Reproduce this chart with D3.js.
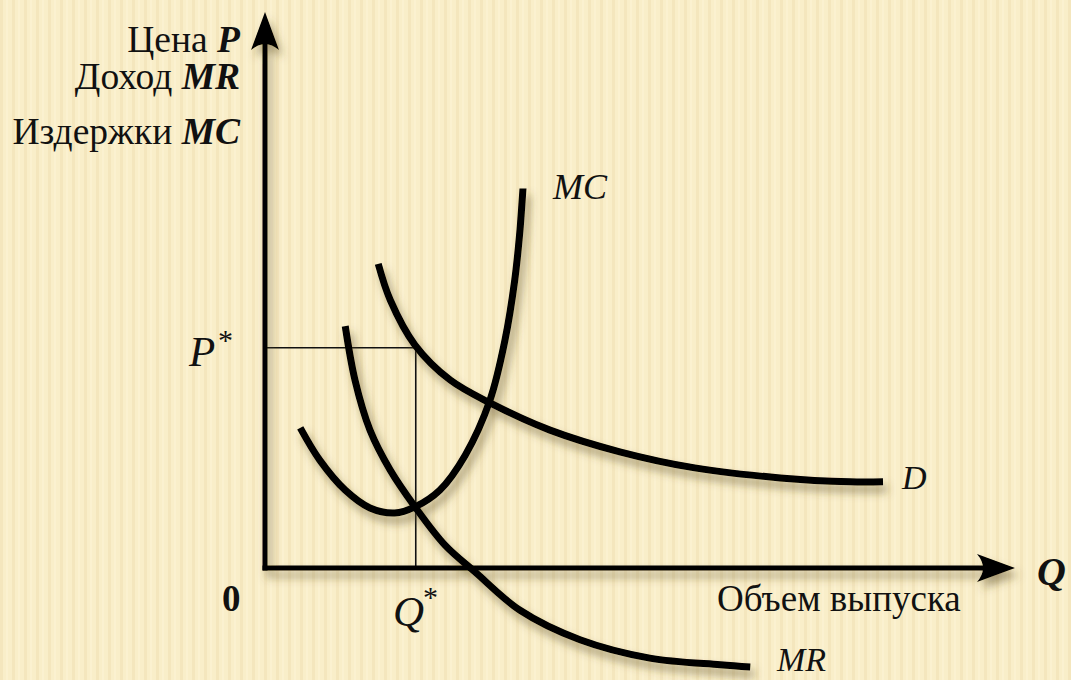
<!DOCTYPE html>
<html>
<head>
<meta charset="utf-8">
<script src="https://cdn.jsdelivr.net/npm/d3@7"></script>
<style>
  html, body { margin: 0; padding: 0; background: #f8ecc5; }
  svg { display: block; }
</style>
</head>
<body>
<div id="chart"></div>
<script>
// curves, in chart units (Q across, P up)
var mcCurve = [[4.7,25.2],[7.3,19.4],[10.7,14.0],[14.0,10.8],[17.3,9.9],[20.0,11.0],[23.3,14.0],[26.7,20.3],[30.0,30.2],[32.0,41.0],[33.3,51.8],[34.0,60.8],[34.4,68.3]];
var mrCurve = [[10.7,43.5],[12.0,33.8],[14.0,24.8],[16.7,17.6],[20.0,11.0],[24.0,4.1],[28.0,-0.7],[34.0,-7.6],[42.0,-12.9],[51.3,-16.2],[60.7,-17.4],[64.7,-17.8]];
var dCurve  = [[15.1,54.7],[16.7,48.2],[20.0,40.1],[24.7,33.8],[30.0,29.7],[38.0,24.8],[47.3,20.9],[57.3,18.0],[68.7,16.2],[78.0,15.5],[82.4,15.5]];
var equilibrium = {q: 20.1, p: 39.6};

var W = 1071, H = 680;
var x = d3.scaleLinear().domain([0, 100]).range([265, 1015]);
var y = d3.scaleLinear().domain([0, 100]).range([568, 12]);

var svg = d3.select("#chart").append("svg")
    .attr("width", W).attr("height", H);

var defs = svg.append("defs");

// faint vertical stripes of the paper
var pat = defs.append("pattern")
    .attr("id", "paper").attr("patternUnits", "userSpaceOnUse")
    .attr("width", 12).attr("height", 12);
pat.append("rect").attr("width", 12).attr("height", 12).attr("fill", "#f9eec9");
pat.append("rect").attr("x", 0).attr("width", 3).attr("height", 12).attr("fill", "#f4e6bd");
pat.append("rect").attr("x", 6).attr("width", 2).attr("height", 12).attr("fill", "#fbf1d0");

svg.append("rect").attr("width", W).attr("height", H).attr("fill", "url(#paper)");

var f = defs.append("filter").attr("id", "shadow")
    .attr("x", "-20%").attr("y", "-20%").attr("width", "140%").attr("height", "140%");
f.append("feDropShadow")
    .attr("dx", 4).attr("dy", 7).attr("stdDeviation", 4.5)
    .attr("flood-color", "#5a4a1a").attr("flood-opacity", 0.5);

var line = d3.line()
    .x(function(d){ return x(d[0]); })
    .y(function(d){ return y(d[1]); })
    .curve(d3.curveCatmullRom.alpha(0.5));

// guide lines for P* and Q*
svg.append("path")
    .attr("d", "M" + x(0) + "," + y(equilibrium.p) + "H" + x(equilibrium.q) + "V" + y(0))
    .attr("fill", "none").attr("stroke", "#111").attr("stroke-width", 1.6);

var g = svg.append("g").attr("filter", "url(#shadow)");

// axes
g.append("path")
    .attr("d", "M" + x(0) + "," + (y(0) + 2.5) + "V" + (y(100) + 20))
    .attr("stroke", "#000").attr("stroke-width", 5).attr("fill", "none");
g.append("path")
    .attr("d", "M" + (x(0) - 2.5) + "," + y(0) + "H" + (x(100) - 20))
    .attr("stroke", "#000").attr("stroke-width", 5).attr("fill", "none");

// arrow heads
var ty = y(100), tx = x(100);
g.append("path")
    .attr("d", "M" + x(0) + "," + ty + " L" + (x(0) + 14) + "," + (ty + 38) +
               " Q" + x(0) + "," + (ty + 26) + " " + (x(0) - 14) + "," + (ty + 38) + "Z")
    .attr("fill", "#000");
g.append("path")
    .attr("d", "M" + tx + "," + y(0) + " L" + (tx - 38) + "," + (y(0) - 14) +
               " Q" + (tx - 26) + "," + y(0) + " " + (tx - 38) + "," + (y(0) + 14) + "Z")
    .attr("fill", "#000");

[dCurve, mrCurve, mcCurve].forEach(function(c){
  g.append("path").attr("d", line(c))
      .attr("fill", "none").attr("stroke", "#000")
      .attr("stroke-width", 7).attr("stroke-linecap", "butt");
});

// labels
function label(tx, ty, parts, anchor, size){
  var t = svg.append("text").attr("x", tx).attr("y", ty)
      .attr("font-family", "'Liberation Serif', 'Times New Roman', serif")
      .attr("fill", "#111")
      .attr("text-anchor", anchor || "start").attr("font-size", size || 32);
  parts.forEach(function(p){
    var s = t.append("tspan").text(p.t);
    if (p.i) s.attr("font-style", "italic");
    if (p.b) s.attr("font-weight", "bold");
  });
  return t;
}
label(240, 52, [{t: "Цена "}, {t: "P", i: 1, b: 1}], "end", 37.5);
label(240, 89, [{t: "Доход "}, {t: "MR", i: 1, b: 1}], "end", 37.5);
label(240, 144, [{t: "Издержки "}, {t: "MC", i: 1, b: 1}], "end", 37.5);

label(189, 366, [{t: "P", i: 1}], "start", 43);
label(218, 350, [{t: "*"}], "start", 30);
label(393, 626, [{t: "Q", i: 1}], "start", 43);
label(423, 607, [{t: "*"}], "start", 30);
label(222, 611, [{t: "0", b: 1}], "start", 37);

label(553, 199, [{t: "MC", i: 1}], "start", 36);
label(902, 489, [{t: "D", i: 1}], "start", 34);
label(777, 671, [{t: "MR", i: 1}], "start", 34);
label(1037, 585, [{t: "Q", i: 1, b: 1}], "start", 40);
label(717, 611, [{t: "Объем выпуска"}], "start", 37);
</script>
</body>
</html>
